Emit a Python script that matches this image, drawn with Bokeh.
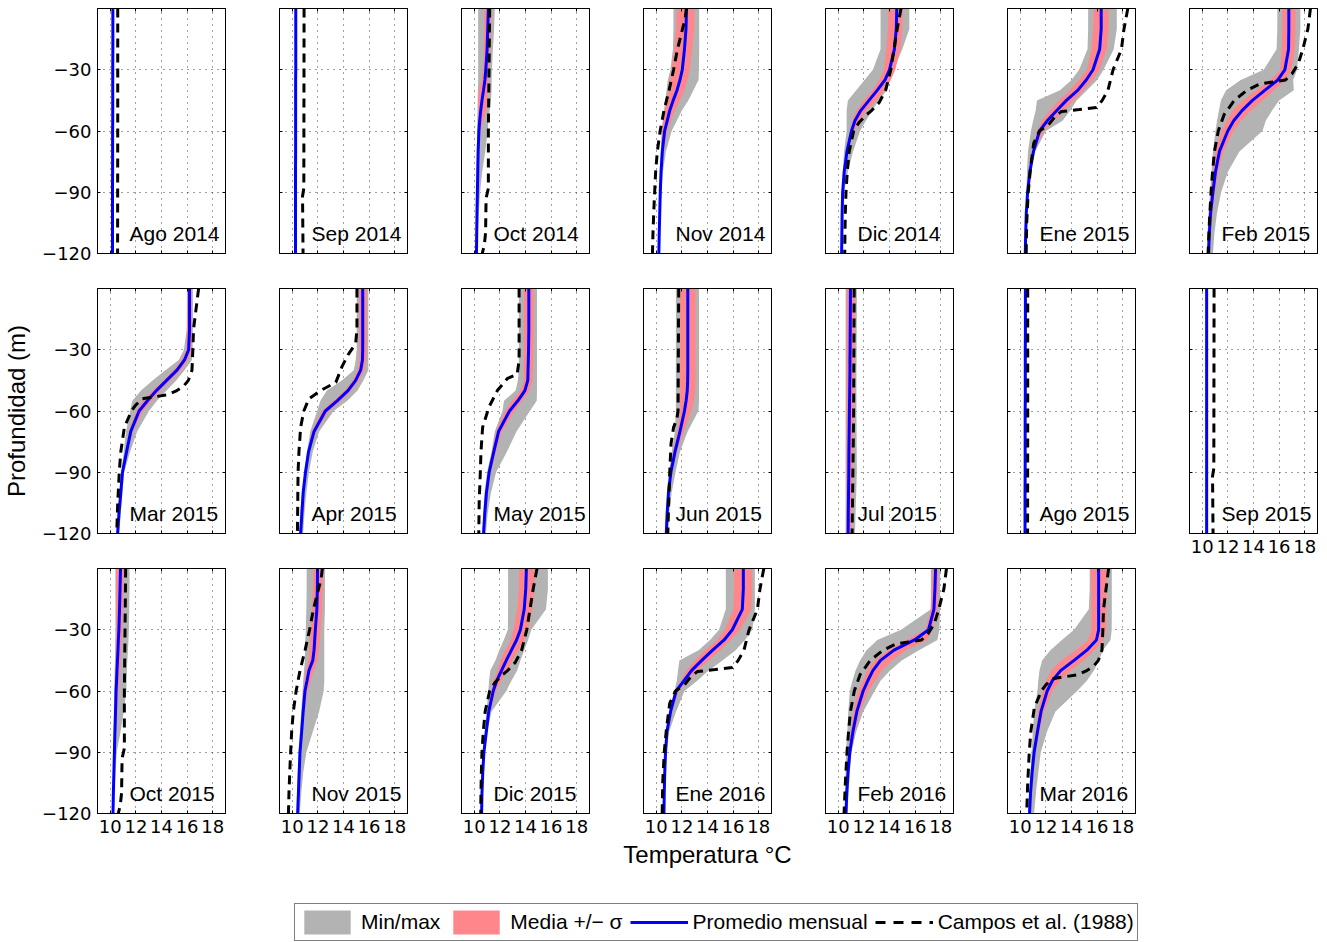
from bokeh.plotting import figure
from bokeh.layouts import gridplot, column
from bokeh.models import Range1d, FixedTicker, LinearAxis, Legend, LegendItem
from bokeh.core.properties import value
from bokeh.embed import file_html
from bokeh.resources import INLINE

# ---------------------------------------------------------------- data
# depth levels (m) shared by the monthly profiles
DEPTH = [0, -10, -20, -30, -35, -40, -45, -50, -55, -60, -70, -80, -90, -100, -110, -120]

PANELS = ["Ago 2014", "Sep 2014", "Oct 2014", "Nov 2014", "Dic 2014", "Ene 2015", "Feb 2015",
          "Mar 2015", "Apr 2015", "May 2015", "Jun 2015", "Jul 2015", "Ago 2015", "Sep 2015",
          "Oct 2015", "Nov 2015", "Dic 2015", "Ene 2016", "Feb 2016", "Mar 2016"]

# monthly mean temperature profile (°C), one row per panel
mean_temp = [
    [10.20, 10.20, 10.20, 10.19, 10.19, 10.19, 10.19, 10.19, 10.19, 10.18, 10.18, 10.18, 10.17, 10.17, 10.17, 10.17],
    [10.27, 10.27, 10.27, 10.27, 10.26, 10.26, 10.26, 10.26, 10.26, 10.26, 10.26, 10.25, 10.25, 10.25, 10.25, 10.25],
    [11.10, 11.05, 11.00, 10.90, 10.83, 10.72, 10.60, 10.50, 10.42, 10.36, 10.30, 10.27, 10.24, 10.21, 10.19, 10.17],
    [12.36, 12.32, 12.20, 12.03, 11.85, 11.62, 11.32, 11.05, 10.85, 10.65, 10.47, 10.37, 10.31, 10.27, 10.23, 10.20],
    [14.57, 14.53, 14.38, 14.00, 13.65, 13.05, 12.40, 11.75, 11.30, 11.03, 10.68, 10.46, 10.34, 10.30, 10.28, 10.26],
    [16.32, 16.32, 16.20, 15.68, 15.15, 14.50, 13.60, 12.85, 12.10, 11.50, 11.03, 10.75, 10.57, 10.47, 10.42, 10.39],
    [16.76, 16.76, 16.74, 16.45, 15.90, 14.90, 13.92, 13.10, 12.45, 11.99, 11.34, 11.03, 10.83, 10.65, 10.55, 10.49],
    [16.19, 16.19, 16.19, 16.12, 15.80, 15.21, 14.40, 13.60, 12.90, 12.25, 11.60, 11.27, 10.95, 10.82, 10.68, 10.57],
    [15.50, 15.50, 15.50, 15.50, 15.48, 15.34, 14.95, 14.35, 13.50, 12.58, 11.70, 11.27, 11.03, 10.85, 10.75, 10.65],
    [14.26, 14.26, 14.26, 14.24, 14.22, 14.20, 14.18, 13.95, 13.40, 12.75, 11.90, 11.52, 11.16, 10.95, 10.82, 10.72],
    [12.46, 12.46, 12.46, 12.46, 12.46, 12.46, 12.45, 12.42, 12.33, 12.20, 11.85, 11.46, 11.14, 10.95, 10.85, 10.78],
    [10.95, 10.94, 10.93, 10.92, 10.91, 10.91, 10.90, 10.89, 10.88, 10.87, 10.85, 10.83, 10.82, 10.80, 10.78, 10.77],
    [10.40, 10.40, 10.40, 10.39, 10.39, 10.39, 10.39, 10.39, 10.39, 10.38, 10.38, 10.38, 10.38, 10.37, 10.37, 10.37],
    [10.34, 10.34, 10.34, 10.34, 10.34, 10.34, 10.34, 10.34, 10.34, 10.34, 10.34, 10.34, 10.34, 10.34, 10.34, 10.34],
    [10.80, 10.76, 10.72, 10.67, 10.63, 10.60, 10.56, 10.52, 10.49, 10.45, 10.41, 10.36, 10.32, 10.28, 10.24, 10.21],
    [11.97, 11.96, 11.92, 11.80, 11.75, 11.70, 11.60, 11.30, 11.15, 10.99, 10.85, 10.73, 10.60, 10.54, 10.48, 10.42],
    [14.07, 14.02, 13.90, 13.60, 13.30, 12.90, 12.50, 12.12, 11.75, 11.48, 11.13, 10.94, 10.75, 10.66, 10.60, 10.57],
    [16.80, 16.80, 16.72, 15.94, 15.30, 14.40, 13.55, 12.75, 12.15, 11.55, 11.12, 10.83, 10.72, 10.66, 10.62, 10.60],
    [17.60, 17.55, 17.47, 17.05, 15.95, 14.35, 13.30, 12.70, 12.30, 11.94, 11.45, 11.14, 10.90, 10.76, 10.66, 10.60],
    [16.12, 16.12, 16.12, 16.12, 15.95, 15.20, 14.20, 13.15, 12.50, 12.10, 11.62, 11.34, 11.08, 10.92, 10.80, 10.72],
]

# mean - sigma
sigma_low = [
    None, None,
    [10.80, 10.78, 10.75, 10.70, 10.55, 10.35, 10.30, 10.30, 10.29, 10.27, 10.24, 10.22, 10.20, 10.18, 10.16, 10.14],
    [11.60, 11.55, 11.40, 11.20, 11.05, 10.95, 10.80, 10.65, 10.55, 10.45, 10.38, 10.32, 10.28, 10.24, 10.21, 10.18],
    [13.90, 13.88, 13.75, 13.55, 13.20, 12.65, 12.00, 11.40, 11.10, 10.90, 10.60, 10.42, 10.31, 10.27, 10.25, 10.23],
    [15.73, 15.70, 15.55, 15.20, 14.60, 13.85, 13.00, 12.30, 11.70, 11.30, 10.95, 10.70, 10.54, 10.45, 10.40, 10.37],
    [16.25, 16.25, 16.20, 16.10, 15.30, 14.20, 13.15, 12.35, 11.90, 11.50, 11.03, 10.85, 10.65, 10.50, 10.42, 10.40],
    [16.00, 16.00, 15.99, 15.95, 15.55, 14.95, 14.15, 13.30, 12.55, 12.00, 11.45, 11.20, 10.90, 10.78, 10.65, 10.54],
    [15.24, 15.24, 15.24, 15.24, 15.24, 15.10, 14.70, 14.10, 13.20, 12.30, 11.55, 11.20, 10.98, 10.80, 10.70, 10.60],
    [13.87, 13.87, 13.87, 13.87, 13.87, 13.87, 13.87, 13.60, 12.95, 12.40, 11.70, 11.38, 11.05, 10.87, 10.76, 10.68],
    [11.87, 11.87, 11.87, 11.87, 11.87, 11.87, 11.87, 11.87, 11.87, 11.87, 11.65, 11.30, 11.05, 10.90, 10.80, 10.74],
    [10.65, 10.65, 10.65, 10.65, 10.65, 10.65, 10.65, 10.65, 10.65, 10.65, 10.65, 10.65, 10.64, 10.64, 10.64, 10.64],
    None, None,
    [10.45, 10.45, 10.45, 10.45, 10.44, 10.43, 10.42, 10.41, 10.40, 10.38, 10.35, 10.31, 10.28, 10.25, 10.21, 10.18],
    [11.64, 11.62, 11.55, 11.43, 11.38, 11.33, 11.25, 11.07, 10.95, 10.86, 10.78, 10.68, 10.56, 10.50, 10.45, 10.39],
    [13.50, 13.48, 13.35, 13.05, 12.85, 12.40, 12.05, 11.80, 11.50, 11.30, 11.05, 10.88, 10.70, 10.62, 10.57, 10.54],
    [16.07, 16.07, 16.02, 15.35, 14.75, 13.80, 13.00, 12.35, 11.95, 11.45, 11.05, 10.78, 10.68, 10.63, 10.59, 10.57],
    [17.35, 17.30, 17.22, 16.80, 15.30, 13.90, 12.80, 12.25, 11.90, 11.55, 11.18, 10.98, 10.80, 10.68, 10.60, 10.55],
    [15.50, 15.55, 15.55, 15.55, 15.30, 14.30, 13.20, 12.40, 12.00, 11.75, 11.40, 11.20, 11.00, 10.85, 10.75, 10.68],
]

# mean + sigma
sigma_high = [
    None, None,
    [11.35, 11.30, 11.25, 11.15, 11.12, 11.08, 11.00, 10.95, 10.70, 10.50, 10.38, 10.33, 10.29, 10.25, 10.22, 10.20],
    [13.00, 12.95, 12.80, 12.60, 12.45, 12.20, 11.85, 11.45, 11.15, 10.85, 10.56, 10.43, 10.35, 10.30, 10.26, 10.22],
    [15.05, 15.00, 14.85, 14.45, 14.10, 13.60, 13.00, 12.20, 11.70, 11.25, 10.80, 10.52, 10.38, 10.33, 10.31, 10.29],
    [16.92, 16.90, 16.75, 16.20, 15.65, 14.95, 14.20, 13.40, 12.60, 11.80, 11.12, 10.78, 10.60, 10.50, 10.44, 10.41],
    [17.28, 17.28, 17.25, 16.95, 16.50, 15.60, 14.70, 13.80, 13.00, 12.45, 11.65, 11.25, 11.00, 10.80, 10.65, 10.58],
    [16.37, 16.37, 16.37, 16.35, 16.05, 15.50, 14.70, 13.90, 13.25, 12.55, 11.75, 11.35, 11.00, 10.86, 10.72, 10.60],
    [15.80, 15.80, 15.80, 15.80, 15.78, 15.60, 15.20, 14.60, 13.85, 12.85, 11.85, 11.35, 11.08, 10.90, 10.80, 10.70],
    [14.65, 14.65, 14.65, 14.62, 14.60, 14.58, 14.55, 14.30, 13.75, 13.15, 12.15, 11.70, 11.30, 11.05, 10.90, 10.80],
    [13.08, 13.08, 13.08, 13.08, 13.08, 13.08, 13.07, 13.05, 12.95, 12.75, 12.15, 11.60, 11.25, 11.02, 10.90, 10.82],
    [11.29, 11.28, 11.27, 11.26, 11.25, 11.25, 11.24, 11.23, 11.22, 11.20, 11.18, 11.15, 11.12, 11.09, 11.06, 11.03],
    None, None,
    [11.05, 11.02, 10.98, 10.92, 10.88, 10.84, 10.80, 10.75, 10.70, 10.65, 10.55, 10.46, 10.38, 10.32, 10.27, 10.24],
    [12.40, 12.38, 12.32, 12.23, 12.15, 12.08, 11.98, 11.68, 11.45, 11.20, 10.95, 10.80, 10.65, 10.58, 10.52, 10.45],
    [14.72, 14.70, 14.55, 14.20, 13.90, 13.45, 12.95, 12.60, 12.10, 11.70, 11.25, 11.00, 10.80, 10.70, 10.64, 10.60],
    [17.49, 17.49, 17.43, 16.55, 15.80, 15.00, 14.10, 13.20, 12.45, 11.75, 11.20, 10.88, 10.76, 10.69, 10.65, 10.63],
    [17.80, 17.80, 17.75, 17.35, 16.90, 15.30, 14.20, 13.40, 12.90, 12.35, 11.70, 11.30, 11.00, 10.84, 10.72, 10.65],
    [16.76, 16.75, 16.72, 16.70, 16.50, 15.80, 14.95, 13.95, 13.10, 12.50, 11.85, 11.50, 11.18, 11.00, 10.86, 10.78],
]

# minimum of the month
min_temp = [
    None, None,
    [10.30, 10.30, 10.30, 10.30, 10.30, 10.28, 10.26, 10.25, 10.23, 10.22, 10.20, 10.18, 10.16, 10.14, 10.12, 10.10],
    [11.34, 11.34, 11.30, 11.10, 10.90, 10.80, 10.70, 10.60, 10.50, 10.42, 10.35, 10.30, 10.26, 10.22, 10.19, 10.16],
    [13.30, 13.30, 13.30, 12.70, 12.05, 11.40, 10.75, 10.65, 10.65, 10.65, 10.45, 10.35, 10.28, 10.24, 10.22, 10.20],
    [15.30, 15.30, 15.25, 14.60, 14.00, 13.10, 11.30, 11.20, 11.00, 10.83, 10.60, 10.52, 10.48, 10.44, 10.40, 10.37],
    [15.86, 15.86, 15.80, 14.80, 13.00, 11.86, 11.45, 11.30, 11.15, 11.03, 10.83, 10.72, 10.62, 10.50, 10.42, 10.36],
    [15.99, 15.99, 15.97, 15.75, 15.35, 14.30, 13.30, 12.40, 11.72, 11.55, 11.23, 11.05, 10.88, 10.72, 10.60, 10.50],
    [15.03, 15.03, 15.03, 15.03, 14.95, 14.80, 13.87, 12.70, 12.20, 11.94, 11.40, 11.15, 10.95, 10.75, 10.62, 10.52],
    [13.48, 13.48, 13.48, 13.48, 13.48, 13.48, 13.40, 13.23, 12.32, 12.20, 11.60, 11.35, 11.00, 10.80, 10.70, 10.64],
    [11.53, 11.53, 11.53, 11.53, 11.53, 11.53, 11.53, 11.53, 11.53, 11.53, 11.45, 11.20, 11.00, 10.85, 10.75, 10.70],
    [10.57, 10.57, 10.57, 10.57, 10.57, 10.57, 10.57, 10.57, 10.57, 10.57, 10.57, 10.57, 10.57, 10.57, 10.57, 10.57],
    None, None,
    [10.40, 10.40, 10.40, 10.40, 10.39, 10.38, 10.36, 10.34, 10.32, 10.30, 10.28, 10.26, 10.24, 10.21, 10.18, 10.15],
    [11.12, 11.12, 11.10, 11.05, 11.02, 11.00, 10.98, 10.92, 10.85, 10.80, 10.70, 10.60, 10.50, 10.42, 10.37, 10.32],
    [12.64, 12.64, 12.64, 12.62, 12.30, 11.95, 11.65, 11.25, 11.15, 11.10, 10.95, 10.80, 10.68, 10.60, 10.55, 10.52],
    [15.43, 15.43, 15.43, 14.90, 14.20, 13.30, 11.80, 11.70, 11.60, 11.42, 11.00, 10.75, 10.65, 10.60, 10.57, 10.54],
    [17.23, 17.23, 17.23, 14.90, 13.05, 12.20, 11.70, 11.35, 11.10, 10.90, 10.78, 10.70, 10.60, 10.57, 10.54, 10.52],
    [15.42, 15.42, 15.35, 14.20, 13.25, 12.35, 11.70, 11.50, 11.40, 11.34, 11.08, 10.98, 10.88, 10.80, 10.70, 10.62],
]

# maximum of the month
max_temp = [
    None, None,
    [11.60, 11.55, 11.45, 11.38, 11.36, 11.35, 11.30, 11.20, 11.10, 11.05, 10.85, 10.62, 10.45, 10.35, 10.28, 10.22],
    [13.35, 13.35, 13.35, 13.33, 13.30, 12.90, 12.50, 12.00, 11.60, 11.20, 10.75, 10.52, 10.40, 10.33, 10.28, 10.24],
    [15.55, 15.55, 15.00, 14.30, 14.05, 13.80, 13.15, 12.65, 12.15, 11.70, 11.15, 10.75, 10.45, 10.36, 10.32, 10.30],
    [17.54, 17.54, 17.30, 16.50, 16.00, 15.20, 14.40, 13.90, 13.30, 12.00, 11.16, 10.80, 10.62, 10.52, 10.46, 10.42],
    [17.66, 17.66, 17.55, 17.40, 17.10, 17.15, 16.00, 15.45, 14.96, 14.70, 12.90, 12.00, 11.47, 11.15, 10.95, 10.83],
    [16.45, 16.45, 16.45, 16.43, 16.37, 15.80, 15.15, 14.40, 13.65, 13.02, 12.10, 11.55, 11.08, 10.95, 10.82, 10.70],
    [15.94, 15.94, 15.94, 15.94, 15.94, 15.94, 15.55, 15.10, 14.30, 13.23, 12.10, 11.60, 11.30, 11.10, 10.95, 10.85],
    [14.90, 14.90, 14.90, 14.90, 14.90, 14.90, 14.90, 14.90, 14.88, 14.34, 13.30, 12.55, 11.70, 11.30, 11.05, 10.90],
    [13.34, 13.34, 13.34, 13.34, 13.34, 13.34, 13.34, 13.34, 13.34, 13.29, 12.45, 11.85, 11.50, 11.20, 11.00, 10.92],
    [11.45, 11.45, 11.44, 11.43, 11.43, 11.42, 11.42, 11.42, 11.42, 11.42, 11.43, 11.44, 11.45, 11.40, 11.35, 11.30],
    None, None,
    [11.50, 11.50, 11.48, 11.45, 11.42, 11.38, 11.33, 11.30, 11.28, 11.25, 11.05, 10.80, 10.50, 10.40, 10.32, 10.27],
    [12.55, 12.55, 12.55, 12.50, 12.50, 12.50, 12.50, 12.50, 12.50, 12.45, 12.10, 11.60, 11.10, 10.85, 10.70, 10.58],
    [15.75, 15.75, 15.60, 14.46, 14.20, 13.90, 13.60, 13.35, 12.90, 12.50, 11.35, 11.00, 10.80, 10.70, 10.64, 10.60],
    [17.70, 17.70, 17.70, 17.50, 16.92, 16.20, 15.17, 14.10, 13.20, 12.20, 11.55, 11.00, 10.80, 10.72, 10.68, 10.65],
    [17.95, 17.95, 17.95, 17.90, 17.74, 16.30, 14.95, 14.05, 13.30, 12.84, 11.95, 11.40, 11.03, 10.90, 10.80, 10.72],
    [17.15, 17.15, 17.15, 17.14, 17.05, 16.45, 16.15, 15.75, 15.20, 14.44, 12.75, 12.08, 11.60, 11.40, 11.22, 11.08],
]

# Campos et al. (1988) climatological profiles, by calendar month
campos_depth = {
    "Ago": [0, -60, -120],
    "Sep": [0, -88, -92, -120],
    "Oct": [0, -30, -60, -88, -93, -110, -116, -120],
    "Nov": [0, -5, -10, -20, -30, -40, -50, -60, -70, -80, -90, -100, -110, -120],
    "Dic": [0, -10, -20, -30, -40, -46, -50, -52, -56, -60, -70, -80, -90, -100, -110, -120],
    "Ene": [0, -10, -20, -30, -40, -45, -48.5, -49.5, -50.5, -53, -57, -60, -66, -78, -90, -105, -120],
    "Feb": [0, -10, -20, -27, -32, -35, -36, -37, -40, -45, -52, -60, -70, -80, -90, -105, -120],
    "Mar": [0, -10, -20, -30, -40, -45, -48, -50, -52, -53, -54, -57, -60, -68, -80, -90, -105, -120],
    "Apr": [0, -20, -27, -32, -38, -46, -50, -54, -60, -68, -80, -90, -120],
    "May": [0, -35, -42, -44, -50, -58, -68, -80, -90, -105, -120],
    "Jun": [0, -60, -64, -68, -76, -90, -105, -120],
    "Jul": [0, -60, -120],
}
campos_temp = {
    "Ago": [10.58, 10.58, 10.57],
    "Sep": [10.92, 10.90, 10.80, 10.84],
    "Oct": [11.20, 11.15, 11.10, 11.10, 10.92, 10.88, 10.78, 10.62],
    "Nov": [12.35, 12.25, 12.05, 11.65, 11.35, 11.00, 10.60, 10.30, 10.08, 9.95, 9.87, 9.80, 9.74, 9.70],
    "Dic": [14.90, 14.60, 14.35, 14.10, 13.70, 13.20, 12.60, 12.20, 11.60, 11.20, 10.85, 10.70, 10.60, 10.55, 10.52, 10.50],
    "Ene": [18.40, 18.10, 17.90, 17.25, 16.85, 16.40, 15.95, 14.60, 13.20, 12.70, 12.20, 11.50, 11.05, 10.80, 10.62, 10.50, 10.46],
    "Feb": [18.45, 18.25, 17.85, 17.50, 17.00, 16.50, 15.50, 14.50, 13.50, 12.50, 11.70, 11.25, 10.95, 10.80, 10.68, 10.55, 10.45],
    "Mar": [16.90, 16.70, 16.50, 16.45, 16.38, 16.10, 15.70, 15.20, 14.50, 13.50, 12.50, 12.00, 11.65, 11.10, 10.82, 10.70, 10.58, 10.50],
    "Apr": [15.05, 15.05, 14.95, 14.40, 13.90, 13.40, 12.20, 11.30, 10.90, 10.65, 10.52, 10.45, 10.40],
    "May": [13.50, 13.50, 13.35, 12.60, 11.80, 11.15, 10.65, 10.52, 10.47, 10.38, 10.35],
    "Jun": [11.75, 11.70, 11.60, 11.35, 11.15, 11.05, 10.97, 10.90],
    "Jul": [11.24, 11.20, 11.08],
}

X_TICKS = [10, 12, 14, 16, 18]
Y_TICKS = [-120, -90, -60, -30]
Y_TICK_TEXT = {t: "\u2212" + str(-t) for t in Y_TICKS}

# ---------------------------------------------------------------- style
GRAY = "#b3b3b3"
PINK = "#ff878c"
BLUE = "#0000ff"
SANS = "Liberation Sans"
TICK_FONT = "DejaVu Sans"
NCOLS = 7
ROW_TOP = [8, 8, 3]
ROW_BOTTOM = [27, 32, 67]
LABEL_X, LABEL_Y = 11.5, -110


def style_axis(ax, ticks, show_labels, overrides=None):
    ax.ticker = FixedTicker(ticks=ticks)
    ax.major_tick_in = 3
    ax.major_tick_out = 0
    ax.minor_tick_in = 0
    ax.minor_tick_out = 0
    ax.axis_line_color = "black"
    ax.major_tick_line_color = "black"
    if show_labels:
        ax.major_label_text_font = TICK_FONT
        ax.major_label_text_font_size = "18px"
        ax.major_label_text_color = "black"
        ax.major_label_standoff = 6
        if overrides:
            ax.major_label_overrides = overrides
    else:
        # tick marks only: labels are not painted
        ax.major_label_text_color = None
        ax.major_label_text_font_size = "1px"
        ax.major_label_standoff = 0


def style_title(ax, text, standoff):
    ax.axis_label = text
    ax.axis_label_text_font = SANS
    ax.axis_label_text_font_size = "24px"
    ax.axis_label_text_font_style = "normal"
    ax.axis_label_text_color = "black"
    ax.axis_label_standoff = standoff


def make_panel(i):
    r, c = divmod(i, NCOLS)
    name = PANELS[i]
    p = figure(frame_width=128, frame_height=245,
               x_range=Range1d(9, 19), y_range=Range1d(-120, 0),
               toolbar_location=None, output_backend="svg",
               min_border_left=97 if c == 0 else 27,
               min_border_right=10 if c == NCOLS - 1 else 27,
               min_border_top=ROW_TOP[r], min_border_bottom=ROW_BOTTOM[r])
    p.outline_line_color = "black"
    p.outline_line_alpha = 1.0
    p.background_fill_color = "white"
    p.border_fill_color = "white"

    bottom_axis = p.below[0]
    left_axis = p.left[0]
    show_x = (r == 2) or (name == "Sep 2015")
    style_axis(bottom_axis, X_TICKS, show_x)
    style_axis(left_axis, Y_TICKS, c == 0, Y_TICK_TEXT)
    top_axis = LinearAxis()
    style_axis(top_axis, X_TICKS, False)
    p.add_layout(top_axis, "above")
    right_axis = LinearAxis()
    style_axis(right_axis, Y_TICKS, False)
    p.add_layout(right_axis, "right")

    p.xgrid[0].ticker = FixedTicker(ticks=X_TICKS)
    p.ygrid[0].ticker = FixedTicker(ticks=Y_TICKS)
    for g in (p.xgrid[0], p.ygrid[0]):
        g.grid_line_color = "black"
        g.grid_line_alpha = 0.75
        g.grid_line_dash = "1 5"
        g.grid_line_width = 1

    if min_temp[i] is not None:
        p.harea(x1=min_temp[i], x2=max_temp[i], y=DEPTH, fill_color=GRAY)
    if sigma_low[i] is not None:
        p.harea(x1=sigma_low[i], x2=sigma_high[i], y=DEPTH, fill_color=PINK)
    p.line(x=mean_temp[i], y=DEPTH, line_color=BLUE, line_width=3)
    month = name.split()[0]
    p.line(x=campos_temp[month], y=campos_depth[month], line_color="black",
           line_width=3, line_dash="9 6")

    p.text(x=[LABEL_X], y=[LABEL_Y], text=[name], text_font=value(SANS),
           text_font_size="21px", text_baseline="middle", text_align="left",
           text_color="black")

    if name == "Mar 2015":
        style_title(left_axis, "Profundidad (m)", 9)
    if name == "Ene 2016":
        style_title(bottom_axis, "Temperatura °C", 5)
    return p


figs = [make_panel(i) for i in range(len(PANELS))]
rows = [figs[k:k + NCOLS] for k in range(0, len(figs), NCOLS)]
rows[-1] = rows[-1] + [None] * (NCOLS - len(rows[-1]))
grid = gridplot(rows, toolbar_location=None)

# ---------------------------------------------------------------- legend strip
# The key strip repeats one month's series; its view window lies outside the
# data, so only the legend swatches are painted.
KEY = PANELS.index("Oct 2014")
key = figure(width=1327, height=62, x_range=Range1d(0, 1), y_range=Range1d(0, 1),
             toolbar_location=None, output_backend="svg", min_border=0,
             x_axis_location=None, y_axis_location=None)
key.grid.visible = False
key.outline_line_color = None
r_minmax = key.harea(x1=min_temp[KEY], x2=max_temp[KEY], y=DEPTH, fill_color=GRAY)
r_sigma = key.harea(x1=sigma_low[KEY], x2=sigma_high[KEY], y=DEPTH, fill_color=PINK)
r_mean = key.line(x=mean_temp[KEY], y=DEPTH, line_color=BLUE, line_width=3)
r_campos = key.line(x=campos_temp["Oct"], y=campos_depth["Oct"], line_color="black",
                    line_width=3, line_dash="10 8")
legend = Legend(items=[
    LegendItem(label="Min/max", renderers=[r_minmax]),
    LegendItem(label="Media +/\u2212 \u03c3", renderers=[r_sigma]),
    LegendItem(label="Promedio mensual", renderers=[r_mean]),
    LegendItem(label="Campos et al. (1988)", renderers=[r_campos]),
], location=(294, 1), orientation="horizontal")
legend.label_text_font = SANS
legend.label_text_font_size = "21px"
legend.label_text_color = "black"
legend.glyph_width = 58
legend.glyph_height = 30
legend.label_standoff = 5
legend.spacing = 7
legend.padding = 3
legend.margin = 0
legend.border_line_color = "black"
legend.border_line_width = 1
legend.background_fill_alpha = 1.0
key.add_layout(legend)

layout = column(grid, key)
open("out.html", "w").write(file_html(layout, INLINE))
